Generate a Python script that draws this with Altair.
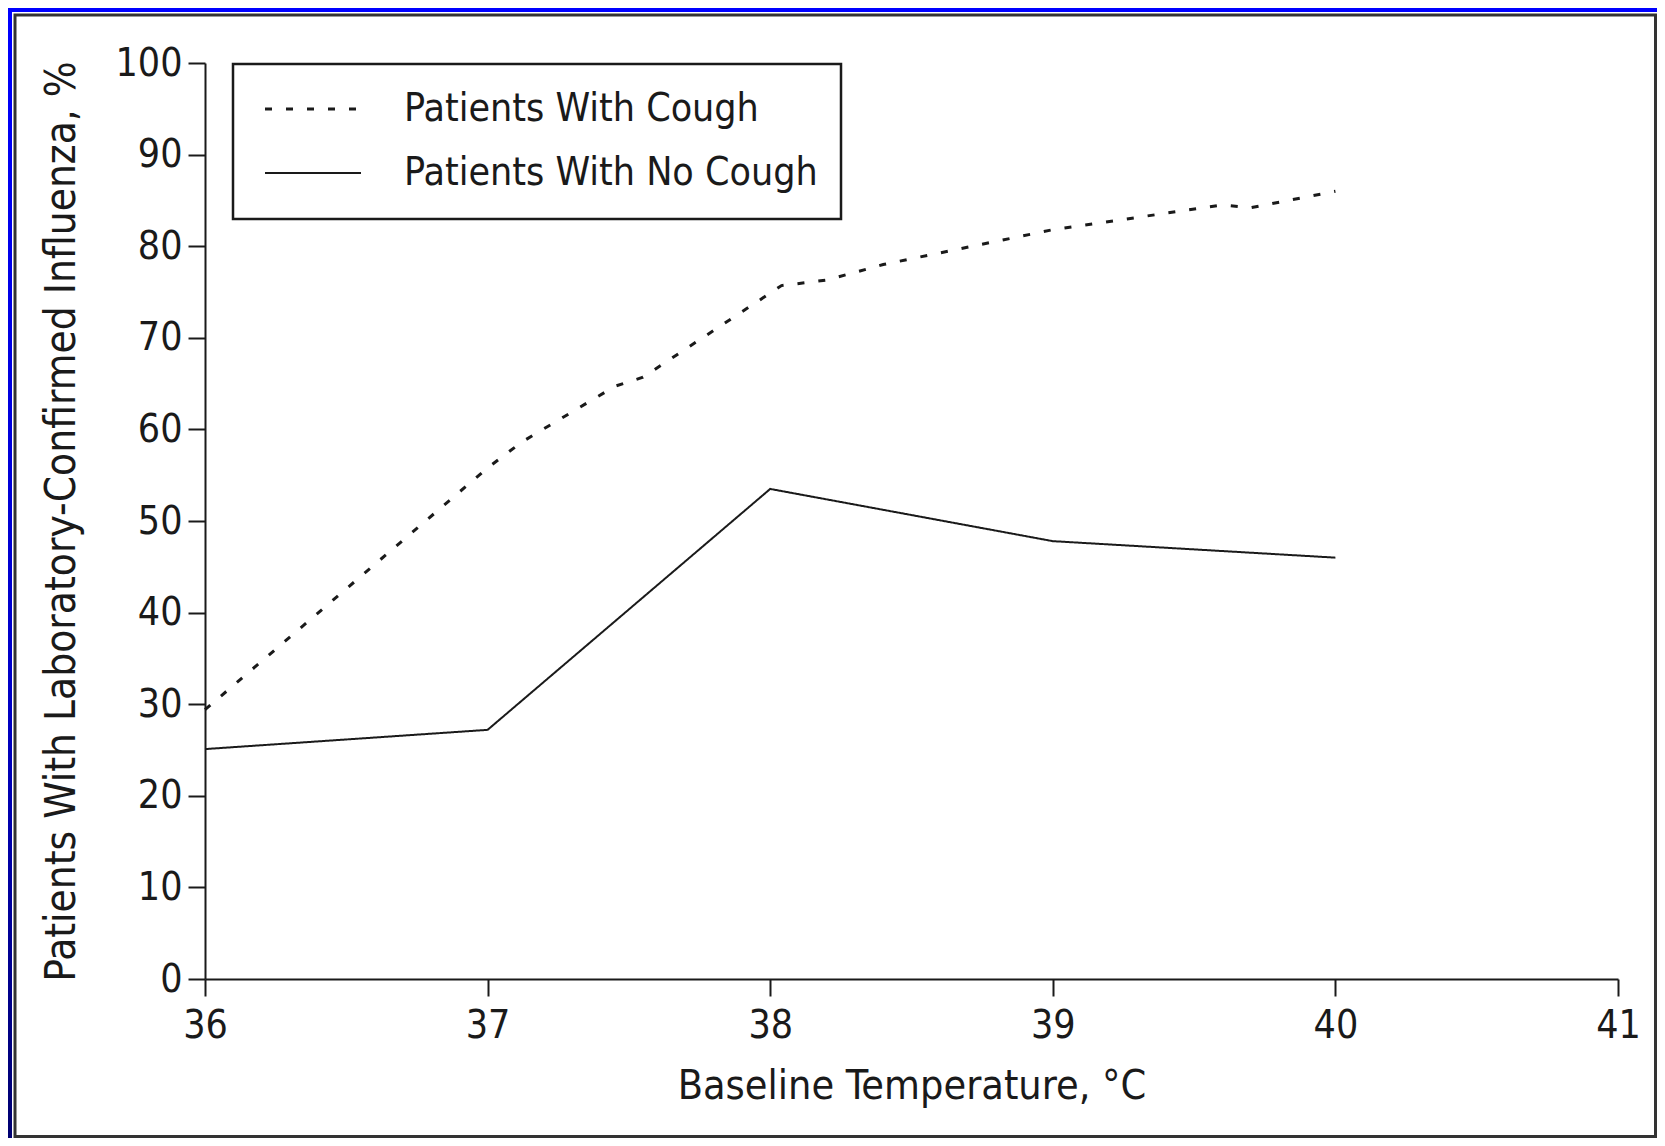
import altair as alt
import pandas as pd

FONT = "DejaVu Sans Condensed"

series_names = ["Patients With Cough", "Patients With No Cough"]

cough_temp = [36.0, 37.0, 37.12, 37.45, 37.55, 38.04, 38.2, 38.4, 39.0, 39.6, 39.7, 40.0]
cough_pct = [29.4, 55.8, 58.6, 64.7, 65.7, 75.7, 76.3, 78.0, 81.8, 84.5, 84.2, 86.0]

nocough_temp = [36, 37, 38, 39, 40]
nocough_pct = [25.1, 27.2, 53.5, 47.8, 46.0]

x_ticks = [36, 37, 38, 39, 40, 41]
y_ticks = [0, 10, 20, 30, 40, 50, 60, 70, 80, 90, 100]

x_title = "Baseline Temperature, °C"
y_title = "Patients With Laboratory-Confirmed Influenza, %"

rows = []
for t, p in zip(cough_temp, cough_pct):
    rows.append({"temp": t, "pct": p, "series": series_names[0]})
for t, p in zip(nocough_temp, nocough_pct):
    rows.append({"temp": t, "pct": p, "series": series_names[1]})
df = pd.DataFrame(rows)
legend_df = pd.DataFrame({"series": series_names})
one = pd.DataFrame({"k": [0]})

x_scale = alt.Scale(domain=[36, 41], nice=False, zero=False)
y_scale = alt.Scale(domain=[0, 100], nice=False)
dash_scale = alt.Scale(domain=series_names, range=[[7, 14], [1, 0]])
sw_scale = alt.Scale(domain=series_names, range=[3, 2])

INK = "#1a1a1a"

lines = alt.Chart(df).mark_line(color=INK).encode(
    x=alt.X("temp:Q", scale=x_scale,
            axis=alt.Axis(values=x_ticks, format="d", title=x_title, grid=False,
                          labelFont=FONT, labelFontSize=39, labelColor=INK,
                          labelPadding=10, tickSize=17, tickWidth=2, tickColor=INK,
                          domainColor=INK, domainWidth=2,
                          titleFont=FONT, titleFontSize=41, titleFontWeight="normal",
                          titleColor=INK, titlePadding=21, labelFlush=False)),
    y=alt.Y("pct:Q", scale=y_scale,
            axis=alt.Axis(values=y_ticks, format="d", title=y_title, grid=False,
                          labelFont=FONT, labelFontSize=39, labelColor=INK,
                          labelPadding=6, tickSize=17, tickWidth=2, tickColor=INK,
                          domainColor=INK, domainWidth=2,
                          titleFont=FONT, titleFontSize=42, titleFontWeight="normal",
                          titleColor=INK, titlePadding=32, labelFlush=False)),
    strokeDash=alt.StrokeDash("series:N", scale=dash_scale, legend=None),
    strokeWidth=alt.StrokeWidth("series:N", scale=sw_scale, legend=None),
    detail="series:N",
)

blue_grad = alt.LinearGradient(
    gradient="linear",
    stops=[alt.GradientStop(color="#0000ff", offset=0),
           alt.GradientStop(color="#0000c8", offset=0.6),
           alt.GradientStop(color="#000070", offset=1)],
    x1=0, x2=0, y1=0, y2=1,
)

blue_top = alt.Chart(one).mark_rect(fill="#0000ff").encode(
    x=alt.value(-197), x2=alt.value(1452), y=alt.value(-55), y2=alt.value(-51)
)
blue_left = alt.Chart(one).mark_rect(fill=blue_grad).encode(
    x=alt.value(-197), x2=alt.value(-193), y=alt.value(-55), y2=alt.value(1075)
)

frame = alt.Chart(one).mark_rect(fill="white", fillOpacity=0, stroke="#333333", strokeWidth=3).encode(
    x=alt.value(-190), x2=alt.value(1450.5), y=alt.value(-48), y2=alt.value(1073.5)
)

legend_box = alt.Chart(one).mark_rect(fill="white", fillOpacity=0, stroke=INK, strokeWidth=2.5).encode(
    x=alt.value(28), x2=alt.value(636), y=alt.value(1), y2=alt.value(156)
)

legend_layers = []
row_y = [46, 110]
for i, name in enumerate(series_names):
    rule = alt.Chart(legend_df).transform_filter(alt.datum.series == name).mark_rule(color=INK).encode(
        x=alt.value(60), x2=alt.value(156), y=alt.value(row_y[i]),
        strokeDash=alt.StrokeDash("series:N", scale=dash_scale, legend=None),
        strokeWidth=alt.StrokeWidth("series:N", scale=sw_scale, legend=None),
    )
    txt = alt.Chart(legend_df).transform_filter(alt.datum.series == name).mark_text(
        align="left", baseline="middle", font=FONT, fontSize=39, color=INK
    ).encode(x=alt.value(199), y=alt.value(row_y[i]), text="series:N")
    legend_layers += [rule, txt]

chart = alt.layer(blue_top, blue_left, frame, lines, legend_box, *legend_layers).properties(
    width=1413, height=916,
    padding={"left": 197, "top": 55, "right": 39, "bottom": 159},
    autosize=alt.AutoSizeParams(type="none"),
    background="white",
).configure_view(strokeWidth=0)

chart.save("out.html", embed_options={"renderer": "svg", "actions": False})
